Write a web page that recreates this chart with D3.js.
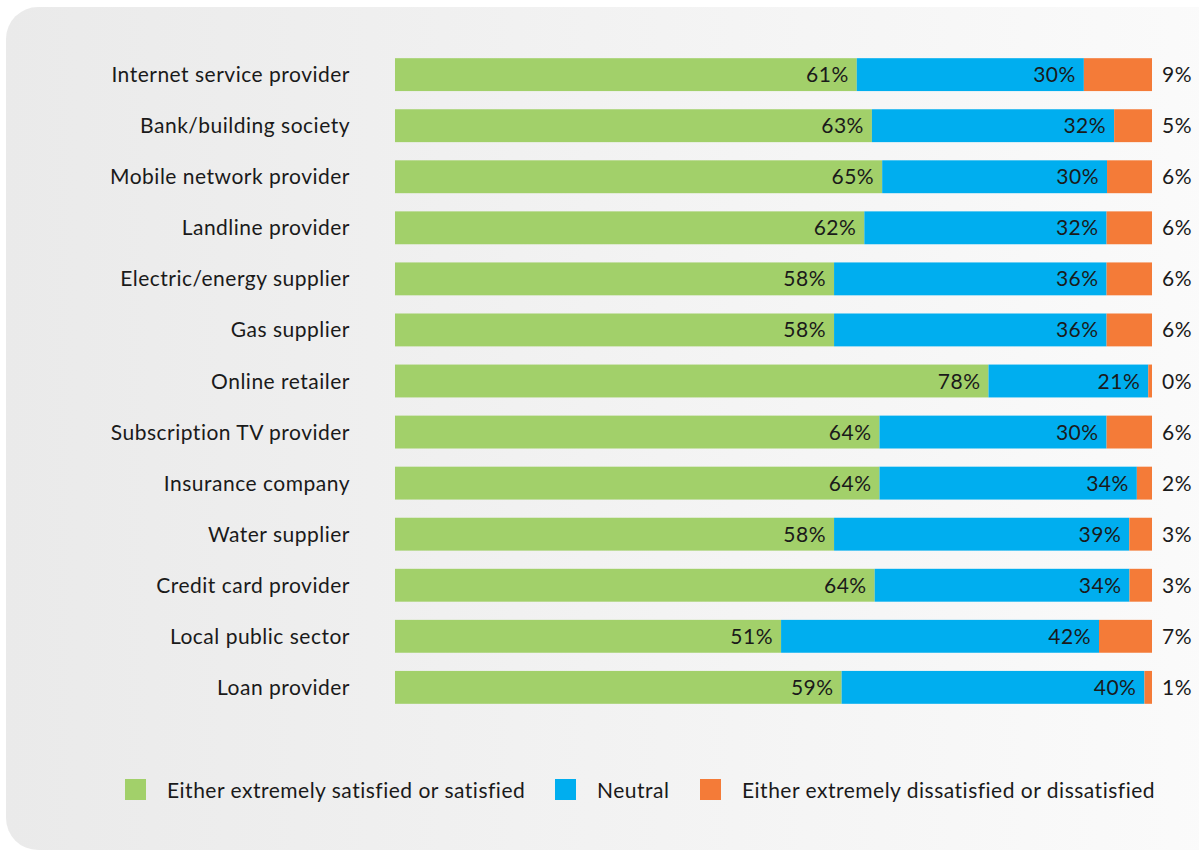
<!DOCTYPE html>
<html>
<head>
<meta charset="utf-8">
<script src="https://cdn.jsdelivr.net/npm/d3@7.9.0/dist/d3.min.js"></script>
<style>
  body { margin: 0; background: #fff; }
  svg { display: block; font-family: Lato, "Open Sans", sans-serif; letter-spacing: 0.5px; }
</style>
</head>
<body>
<svg id="chart" width="1199" height="852"></svg>
<script>
const categories = [
  'Internet service provider', 'Bank/building society', 'Mobile network provider',
  'Landline provider', 'Electric/energy supplier', 'Gas supplier', 'Online retailer',
  'Subscription TV provider', 'Insurance company', 'Water supplier',
  'Credit card provider', 'Local public sector', 'Loan provider'
];
const satisfied    = [61, 63, 65, 62, 58, 58, 78, 64, 64, 58, 64, 51, 59];
const neutral      = [30, 32, 30, 32, 36, 36, 21, 30, 34, 39, 34, 42, 40];
const dissatisfied = [9, 5, 6, 6, 6, 6, 0.49, 6, 2, 3, 3, 7, 1];
const seriesNames = [
  'Either extremely satisfied or satisfied', 'Neutral',
  'Either extremely dissatisfied or dissatisfied'
];
const colors = ['#a2d06a', '#00aeef', '#f47b38'];

const svg = d3.select('#chart');

// background panel with soft gradient
const grad = svg.append('defs').append('linearGradient').attr('id', 'bg');
grad.append('stop').attr('offset', '0%').attr('stop-color', '#eaeaea');
grad.append('stop').attr('offset', '100%').attr('stop-color', '#fbfbfb');
svg.append('rect')
  .attr('x', 6).attr('y', 7).attr('width', 1240).attr('height', 843)
  .attr('rx', 32).attr('fill', 'url(#bg)');

const rows = categories.map((c, i) => ({
  cat: c, s: satisfied[i], n: neutral[i], d: dissatisfied[i]
}));
const keys = ['s', 'n', 'd'];
const stacked = d3.stack().keys(keys).offset(d3.stackOffsetExpand)(rows);

const x = d3.scaleLinear().domain([0, 1]).range([395, 1152]);
const y = d3.scaleBand().domain(categories).range([49, 713]).paddingInner(0.356).paddingOuter(0.18);

const layers = svg.append('g').selectAll('g')
  .data(stacked)
  .join('g')
  .attr('fill', (_, i) => colors[i]);

layers.selectAll('rect')
  .data(d => d)
  .join('rect')
  .attr('x', d => x(d[0]))
  .attr('width', d => x(d[1]) - x(d[0]))
  .attr('y', d => y(d.data.cat))
  .attr('height', y.bandwidth());

const fmt = v => Math.round(v) + '%';
const labels = svg.append('g').attr('font-size', 21).attr('fill', '#1a1a1a');

// labels inside green and blue segments
stacked.slice(0, 2).forEach((layer, k) => {
  labels.selectAll(null)
    .data(layer)
    .join('text')
    .attr('x', d => x(d[1]) - 8)
    .attr('y', d => y(d.data.cat) + y.bandwidth() / 2)
    .attr('dy', '0.36em')
    .attr('text-anchor', 'end')
    .text(d => fmt(d.data[keys[k]]));
});

// dissatisfied labels to the right
labels.selectAll(null)
  .data(rows)
  .join('text')
  .attr('x', x(1) + 10)
  .attr('y', d => y(d.cat) + y.bandwidth() / 2)
  .attr('dy', '0.36em')
  .text(d => fmt(d.d));

// category labels
svg.append('g').attr('font-size', 21).attr('fill', '#1a1a1a')
  .selectAll('text')
  .data(categories)
  .join('text')
  .attr('x', 350)
  .attr('y', d => y(d) + y.bandwidth() / 2)
  .attr('dy', '0.36em')
  .attr('text-anchor', 'end')
  .text(d => d);

// legend
const legendX = [125, 555, 700];
const legend = svg.append('g').selectAll('g')
  .data(seriesNames)
  .join('g')
  .attr('transform', (_, i) => `translate(${legendX[i]},779)`);
legend.append('rect').attr('width', 21).attr('height', 21).attr('fill', (_, i) => colors[i]);
legend.append('text')
  .attr('x', 42).attr('y', 11).attr('dy', '0.36em')
  .attr('font-size', 21).attr('fill', '#1a1a1a')
  .text(d => d);
</script>
</body>
</html>
